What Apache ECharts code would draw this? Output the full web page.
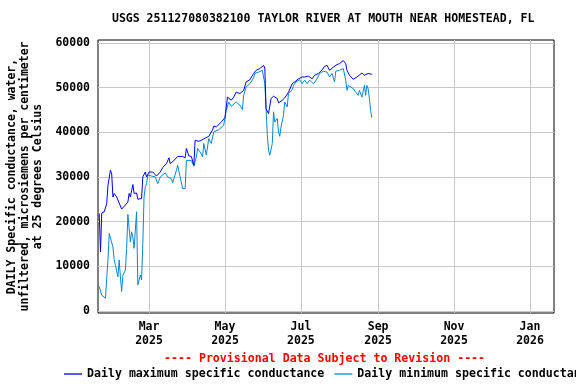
<!DOCTYPE html>
<html>
<head>
<meta charset="utf-8">
<script src="https://cdn.jsdelivr.net/npm/echarts@6/dist/echarts.min.js"></script>
<style>
html,body{margin:0;padding:0;background:#fff;}
#chart{width:576px;height:384px;}
</style>
</head>
<body>
<div id="chart"></div>
<script>
// Day numbers are days since 2025-01-01 (0 = Jan 1, 2025)
const maxDays = [19,20,21,23,25,26,28,29,30,31,33,37,40,42,43,44,46,47,49,50,53,54,56,57,59,62,65,68,70,73,75,76,78,82,86,88,89,91,93,95,96,99,101,104,107,110,111,113,117,120,122,123,125,127,129,132,135,137,140,143,144,145,148,151,152,153,155,157,159,162,163,166,168,171,174,176,179,182,184,187,190,192,195,198,200,202,204,207,210,212,215,217,218,220,223,226,230,232,235,238];
const maxValues = [21800,13200,21900,22200,24000,28100,31500,30700,25500,26300,25500,22800,23700,24400,26300,25500,28300,26300,26400,25000,25200,30000,31100,30000,31100,31100,30200,31100,32100,33000,34300,33000,33400,34600,34600,34300,36400,34700,34600,32600,38200,38000,38200,38700,39100,40500,41400,41200,42300,43300,47900,48100,47200,47900,49000,48700,49400,51300,51800,53200,53500,53900,54300,55000,54400,45300,44200,47600,48100,47600,46600,47200,47700,49000,50900,51300,52000,52400,52400,52600,52000,52800,53200,54000,54800,55000,53900,54600,55200,55400,56100,55400,53900,52800,51900,52400,53300,52800,53200,53000];
const minDays = [19,21,24,25,26,27,28,30,31,32,34,35,36,37,38,40,41,42,43,44,45,46,47,48,49,50,52,53,54,55,56,57,58,61,64,66,68,72,74,77,78,81,82,84,86,88,89,93,95,97,98,100,102,103,105,107,109,111,115,119,121,123,125,129,132,134,135,137,140,143,144,147,148,150,151,152,153,154,155,156,158,159,160,162,163,164,165,166,167,168,170,171,174,175,177,180,182,184,186,188,191,194,196,199,202,204,206,208,209,212,215,216,217,218,219,220,223,225,227,228,230,231,232,233,234,235,236,237,238];
const minValues = [5400,3500,2800,7300,11400,17300,17700,14300,11400,10200,7600,11400,7600,4300,8000,9100,14000,21600,21600,15400,17700,16600,14000,18100,22200,5800,8000,6900,15100,25500,27800,28500,30400,30200,30000,28500,30000,30900,30000,29600,28700,31500,32600,30000,27400,27400,33700,33700,32400,34500,36400,35600,34500,37500,34900,38600,37500,40100,40600,41600,44900,46800,45800,46800,46100,45100,48300,50200,50900,52200,53200,53500,53500,53900,54300,50900,45300,39500,36000,34900,37500,44600,42300,43100,40100,39100,41200,40800,43800,46800,45700,48700,49600,50500,51300,51800,50900,51700,50900,51700,50900,52000,53200,53700,53500,52400,53200,51300,53700,53900,54300,54600,51700,49400,50500,50200,49800,49000,48300,49400,47900,47600,50500,48300,50500,49800,47600,44900,43300];
const xTickMonths = [[2025,2],[2025,4],[2025,6],[2025,8],[2025,10],[2026,0]];
const monthNames = ['Jan','Feb','Mar','Apr','May','Jun','Jul','Aug','Sep','Oct','Nov','Dec'];
const yTicks = [0,10000,20000,30000,40000,50000,60000];
const titleText = 'USGS 251127080382100 TAYLOR RIVER AT MOUTH NEAR HOMESTEAD, FL';
const yName = 'DAILY Specific conductance, water,\nunfiltered, microsiemens per centimeter\nat 25 degrees Celsius';
const provisional = '---- Provisional Data Subject to Revision ----';
const maxName = 'Daily maximum specific conductance';
const minName = 'Daily minimum specific conductance';

const DAY = 86400000;
const baseUTC = Date.UTC(2025, 0, 1);
const dayOf = (y, m) => Math.round((Date.UTC(y, m, 1) - baseUTC) / DAY);
const xTickDays = xTickMonths.map(m => dayOf(m[0], m[1]));
const FONT = 'DejaVu Sans Mono';

const chart = echarts.init(document.getElementById('chart'), null, {renderer: 'canvas'});
chart.setOption({
  animation: false,
  backgroundColor: '#ffffff',
  textStyle: {fontFamily: FONT, fontWeight: 'bold', fontSize: 11.5, color: '#000'},
  title: {
    text: titleText, left: 112, top: 13, padding: 0,
    textStyle: {fontFamily: FONT, fontWeight: 'bold', fontSize: 11.5, color: '#000'}
  },
  graphic: [{
    type: 'text', left: 164, top: 353,
    style: {text: provisional, fill: '#ff0000', font: 'bold 11.6px "DejaVu Sans Mono"'}
  }],
  legend: {
    left: 64, top: 368, width: 900, itemWidth: 18, itemHeight: 1.3, itemGap: 10, icon: 'rect', padding: 0,
    textStyle: {fontFamily: FONT, fontWeight: 'bold', fontSize: 11.6, color: '#000'},
    data: [maxName, minName]
  },
  grid: {left: 98, right: 22, top: 40, bottom: 71, show: true, borderColor: '#000', borderWidth: 1,
         containLabel: false, outerBoundsMode: 'none'},
  xAxis: {
    type: 'value',
    min: 18, max: 384.3,
    axisLine: {show: false},
    axisTick: {show: false, customValues: xTickDays},
    axisLabel: {
      customValues: xTickDays,
      formatter: v => { const d = new Date(baseUTC + v * DAY); return monthNames[d.getUTCMonth()] + '\n' + d.getUTCFullYear(); },
      fontFamily: FONT, fontWeight: 'bold', fontSize: 11.5, color: '#000', lineHeight: 14, margin: 7
    },
    splitLine: {show: true, lineStyle: {color: '#c8c8c8', width: 1}}
  },
  yAxis: {
    type: 'value', min: -500, max: 60700,
    name: yName, nameLocation: 'middle', nameGap: 52, nameRotate: 90,
    nameTextStyle: {fontFamily: FONT, fontWeight: 'bold', fontSize: 11.5, color: '#000', lineHeight: 13, align: 'center'},
    axisLine: {show: false},
    axisTick: {show: false, customValues: yTicks},
    axisLabel: {customValues: yTicks, formatter: v => String(v), fontFamily: FONT, fontWeight: 'bold', fontSize: 11.5, color: '#000', margin: 8},
    splitLine: {show: true, lineStyle: {color: '#c8c8c8', width: 1}}
  },
  series: [
    {
      name: minName, type: 'line', showSymbol: false, symbol: 'none',
      lineStyle: {color: '#0a88cc', width: 1}, itemStyle: {color: '#0a88cc'},
      data: minDays.map((d, i) => [d, minValues[i]])
    },
    {
      name: maxName, type: 'line', showSymbol: false, symbol: 'none',
      lineStyle: {color: '#0000ff', width: 1}, itemStyle: {color: '#0000ff'},
      data: maxDays.map((d, i) => [d, maxValues[i]])
    }
  ]
});
</script>
</body>
</html>
